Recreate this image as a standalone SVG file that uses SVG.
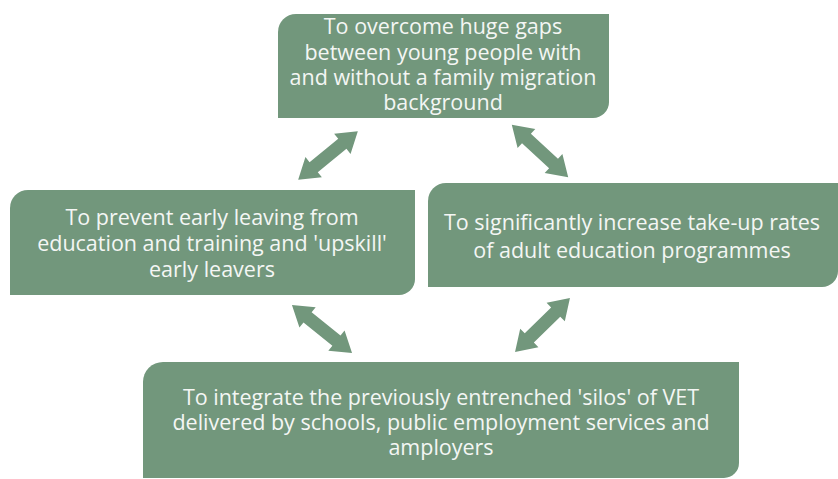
<svg xmlns="http://www.w3.org/2000/svg" width="838" height="479" viewBox="0 0 838 479">
  <style>
    .box { fill: #72977c; }
    .lbl { fill: #f4f6f4; font-family: "Open Sans", "Noto Sans", "DejaVu Sans", sans-serif; font-size: 21.5px; text-anchor: middle; }
    .arrow { fill: #72977c; }
  </style>
  <defs>
    <!-- double-headed block arrow, 77px long, centred on the origin along x -->
    <path id="dbl" d="M-38.5,0 L-18.5,-13 L-18.5,-6.5 L18.5,-6.5 L18.5,-13 L38.5,0 L18.5,13 L18.5,6.5 L-18.5,6.5 L-18.5,13 Z"/>
  </defs>
  <rect width="838" height="479" fill="#ffffff"/>

  <g id="connectors" class="arrow">
    <use href="#dbl" transform="translate(328,155.5) rotate(-39.2)"/>
    <use href="#dbl" transform="translate(540,151) rotate(42.9)"/>
    <use href="#dbl" transform="translate(322,329) rotate(38.7)"/>
    <use href="#dbl" transform="translate(542.5,325) rotate(-44.5)"/>
  </g>

  <g id="node-gaps">
    <path class="box" d="M296,14 H609 V102 A16,16 0 0 1 593,118 H278 V32 A18,18 0 0 1 296,14 Z"/>
    <text class="lbl" x="443" y="34">To overcome huge gaps</text>
    <text class="lbl" x="443" y="59.5">between young people with</text>
    <text class="lbl" x="443" y="85">and without a family migration</text>
    <text class="lbl" x="443" y="110">background</text>
  </g>

  <g id="node-early-leaving">
    <path class="box" d="M28,190 H415 V279 A16,16 0 0 1 399,295 H10 V208 A18,18 0 0 1 28,190 Z"/>
    <text class="lbl" x="212" y="225">To prevent early leaving from</text>
    <text class="lbl" x="212" y="251">education and training and 'upskill'</text>
    <text class="lbl" x="212" y="277">early leavers</text>
  </g>

  <g id="node-adult-education">
    <path class="box" d="M446,183 H838 V271 A16,16 0 0 1 822,287 H428 V201 A18,18 0 0 1 446,183 Z"/>
    <text class="lbl" x="632" y="230">To significantly increase take-up rates</text>
    <text class="lbl" x="632" y="258">of adult education programmes</text>
  </g>

  <g id="node-silos">
    <path class="box" d="M163,362 H739 V463 A15,15 0 0 1 724,478 H143 V382 A20,20 0 0 1 163,362 Z"/>
    <text class="lbl" x="441" y="405">To integrate the previously entrenched 'silos' of VET</text>
    <text class="lbl" x="441" y="430">delivered by schools, public employment services and</text>
    <text class="lbl" x="441" y="455">amployers</text>
  </g>
</svg>
